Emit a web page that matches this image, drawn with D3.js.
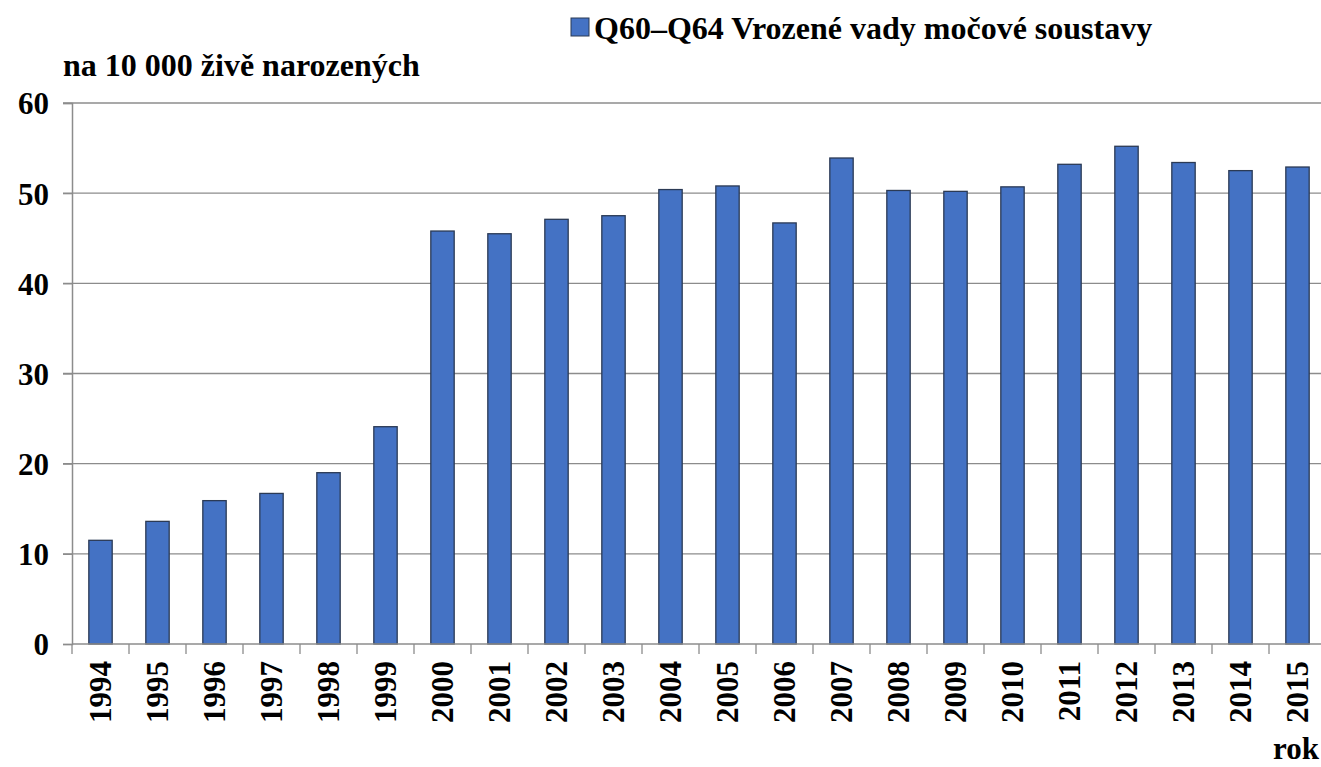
<!DOCTYPE html>
<html>
<head>
<meta charset="utf-8">
<script src="https://cdn.jsdelivr.net/npm/d3@7"></script>
<style>
  body { margin: 0; background: #fff; }
  svg text { font-family: "Liberation Serif", "Times New Roman", serif !important; font-weight: bold; fill: #000; }
</style>
</head>
<body>
<svg id="chart"></svg>
<script>
var years = ["1994","1995","1996","1997","1998","1999","2000","2001","2002","2003","2004",
  "2005","2006","2007","2008","2009","2010","2011","2012","2013","2014","2015"];
var values = [11.5, 13.6, 15.9, 16.7, 19.0, 24.1, 45.8, 45.5, 47.1, 47.5, 50.4,
  50.8, 46.7, 53.9, 50.3, 50.2, 50.7, 53.2, 55.2, 53.4, 52.5, 52.9];
var yTicks = [0, 10, 20, 30, 40, 50, 60];
var seriesName = "Q60–Q64 Vrozené vady močové soustavy";
var yTitle = "na 10 000 živě narozených";
var xTitle = "rok";

var width = 1321, height = 767,
  margin = {top: 103, right: -5, bottom: 123, left: 72};

var svg = d3.select("#chart")
  .attr("width", width)
  .attr("height", height);

var x = d3.scaleBand()
  .domain(years)
  .range([margin.left, width - margin.right])
  .paddingInner(0.59)
  .paddingOuter(0.295);

var y = d3.scaleLinear()
  .domain([0, 60])
  .range([height - margin.bottom, margin.top]);

// gridlines
svg.append("g")
  .selectAll("line")
  .data(yTicks.filter(function(d) { return d > 0; }))
  .enter().append("line")
  .attr("x1", margin.left - 9)
  .attr("x2", width)
  .attr("y1", function(d) { return y(d); })
  .attr("y2", function(d) { return y(d); })
  .attr("stroke", "#8c8c8c")
  .attr("stroke-width", 1.3);

// y axis
var yAxis = svg.append("g")
  .attr("transform", "translate(" + margin.left + ",0)")
  .call(d3.axisLeft(y).tickValues(yTicks).tickSize(9).tickPadding(14));
yAxis.attr("font-family", null).attr("font-size", null);
yAxis.select(".domain").attr("stroke", "#8c8c8c").attr("stroke-width", 1.5);
yAxis.selectAll(".tick line").attr("stroke", "#8c8c8c").attr("stroke-width", 1.3);
yAxis.selectAll(".tick text")
  .attr("font-size", 31)
  .attr("dy", "0.35em");

// bars
svg.append("g")
  .selectAll("rect")
  .data(values)
  .enter().append("rect")
  .attr("x", function(d, i) { return x(years[i]); })
  .attr("y", function(d) { return y(d); })
  .attr("width", x.bandwidth())
  .attr("height", function(d) { return y(0) - y(d); })
  .attr("fill", "#4472c4")
  .attr("stroke", "#2b3a55")
  .attr("stroke-width", 1.3);

// x axis
var step = x.step();
var xAxis = svg.append("g")
  .attr("transform", "translate(0," + y(0) + ")");
xAxis.append("line")
  .attr("x1", margin.left)
  .attr("x2", width)
  .attr("stroke", "#8c8c8c")
  .attr("stroke-width", 1.5);
xAxis.selectAll(".tk")
  .data(d3.range(years.length + 1))
  .enter().append("line")
  .attr("x1", function(i) { return margin.left + i * step; })
  .attr("x2", function(i) { return margin.left + i * step; })
  .attr("y1", 0)
  .attr("y2", 10)
  .attr("stroke", "#8c8c8c")
  .attr("stroke-width", 1.3);
xAxis.selectAll(".yl")
  .data(years)
  .enter().append("text")
  .attr("transform", function(d) {
    return "translate(" + (x(d) + x.bandwidth() / 2) + ",17) rotate(-90)";
  })
  .attr("text-anchor", "end")
  .attr("dy", "0.35em")
  .attr("font-size", 31)
  .text(function(d) { return d; });

// titles
svg.append("text")
  .attr("x", 63)
  .attr("y", 76)
  .attr("font-size", 32)
  .text(yTitle);

svg.append("text")
  .attr("x", 1319)
  .attr("y", 759)
  .attr("text-anchor", "end")
  .attr("font-size", 31)
  .text(xTitle);

// legend
var legend = svg.append("g");
legend.append("rect")
  .attr("x", 571)
  .attr("y", 18)
  .attr("width", 18)
  .attr("height", 18)
  .attr("fill", "#4472c4")
  .attr("stroke", "#2b3a55")
  .attr("stroke-width", 1);
legend.append("text")
  .attr("x", 594)
  .attr("y", 39)
  .attr("font-size", 32)
  .text(seriesName);
</script>
</body>
</html>
